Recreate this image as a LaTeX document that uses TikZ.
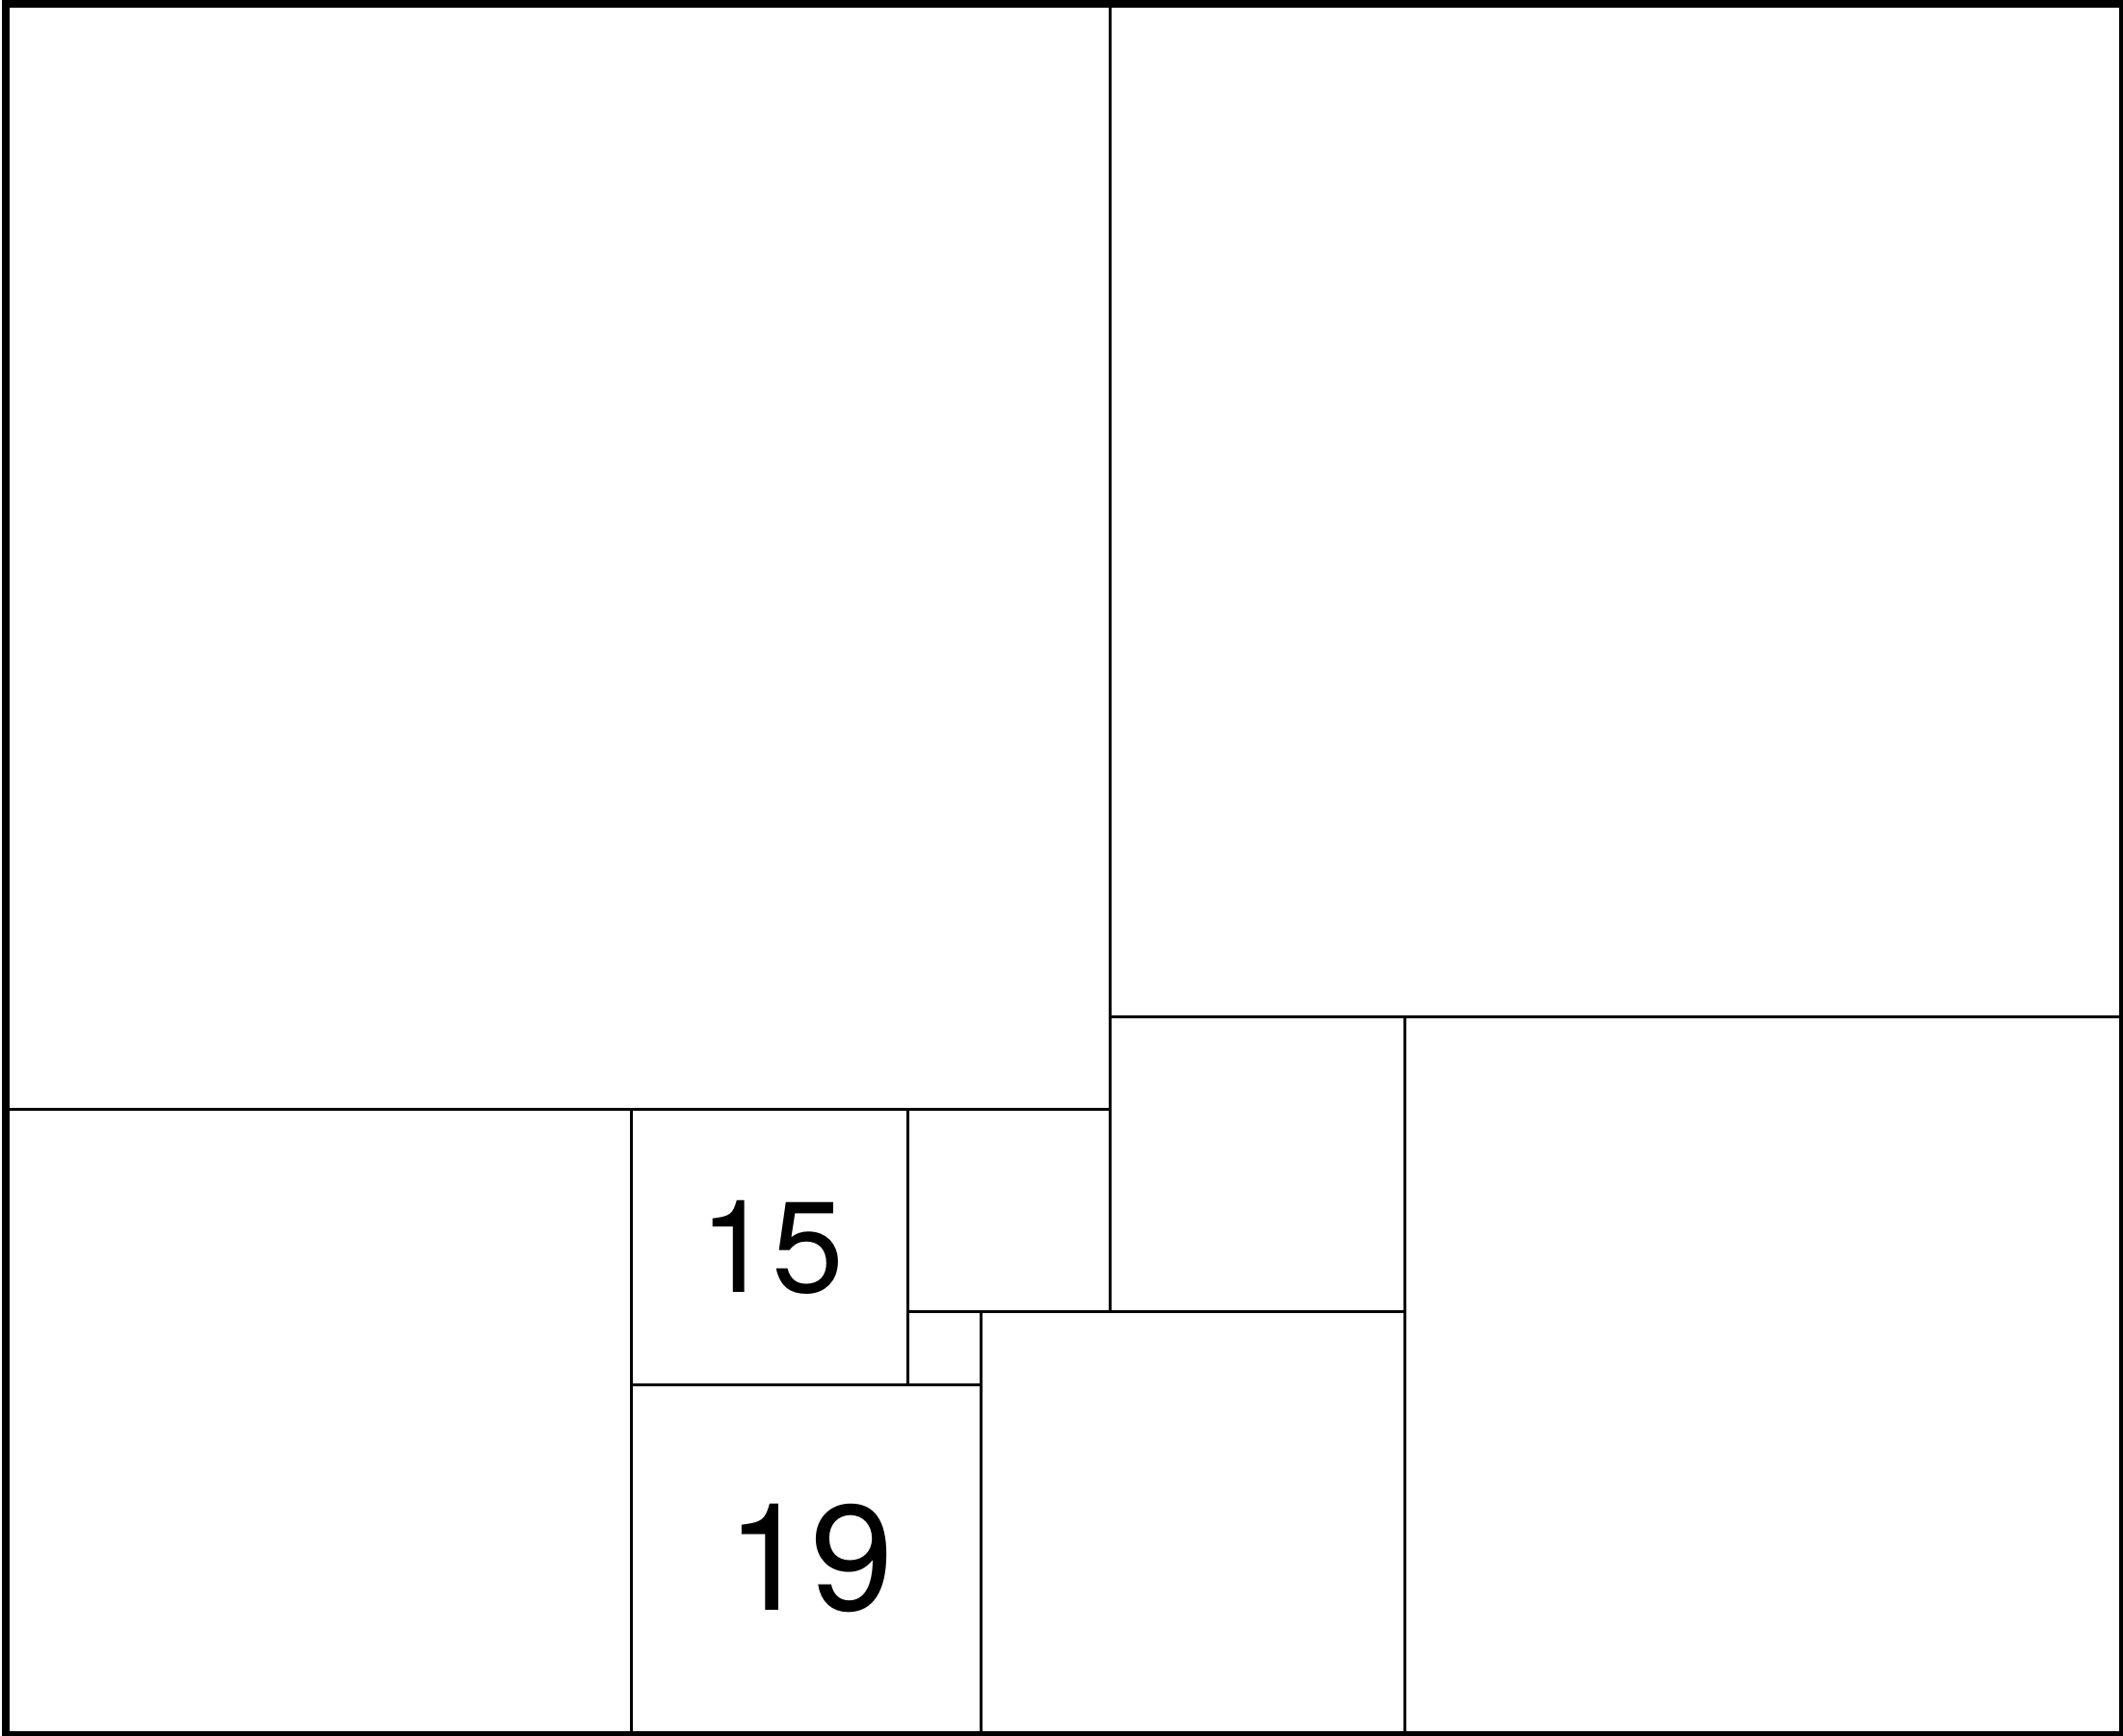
\documentclass[tikz,border=0pt]{standalone}
\usepackage{fontspec}
\setmainfont{TeX Gyre Heros}
\usetikzlibrary{positioning}
\tikzset{
  sq/.style={draw=black, line width=0.85pt},
  frame/.style={draw=black, line width=2.3pt},
  sqlabel/.style={inner sep=0pt, text=black}
}
\begin{document}
\begin{tikzpicture}[x=0.19cm, y=0.19cm]
  % page size
  \useasboundingbox (-0.31,0) rectangle (115.0,94.23);
  % the squares: left, bottom, side
  \foreach \sx/\sy/\ss in {0/34/60, 60/39/55, 0/0/34, 34/19/15, 49/23/11,
                           49/19/4, 34/0/19, 60/23/16, 53/0/23, 76/0/39}
    \draw[sq] (\sx,\sy) rectangle ++(\ss,\ss);
  % outer border
  \draw[frame] (0,0) rectangle (115,94);
  % labels
  \node[sqlabel, font=\fontsize{38}{42}\selectfont] (l15) at (41.6,26.5) {15};
  \node[sqlabel, font=\fontsize{44}{48}\selectfont] (l19) at (43.7,9.6) {19};
\end{tikzpicture}
\end{document}
